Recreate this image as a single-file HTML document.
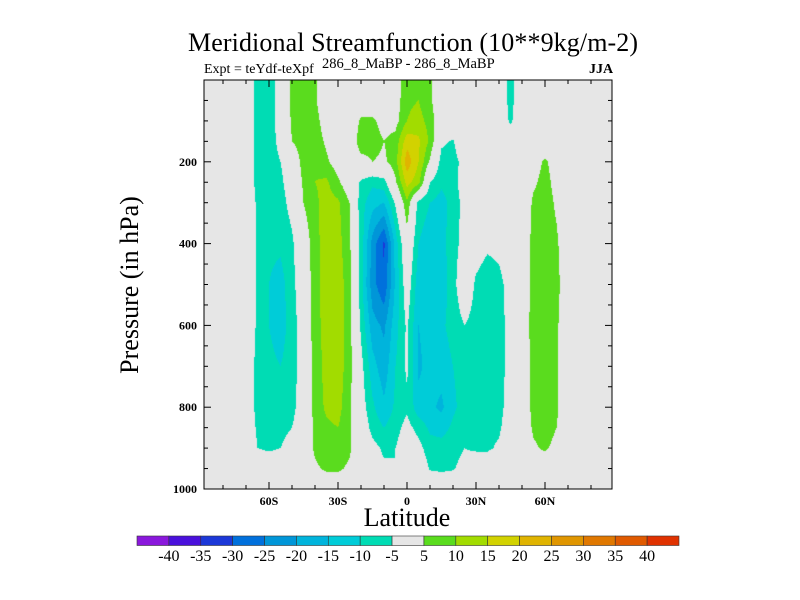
<!DOCTYPE html>
<html><head><meta charset="utf-8"><style>
body{margin:0;background:#fff;width:800px;height:600px;overflow:hidden;position:relative;font-family:"Liberation Serif",serif}
.t{position:absolute;white-space:nowrap;color:#000}
</style></head><body>
<div class="t" style="left:188px;top:28px;font-size:26px;letter-spacing:0.1px">Meridional Streamfunction (10**9kg/m-2)</div>
<div class="t" style="left:204px;top:62px;font-size:14px">Expt = teYdf-teXpf</div>
<div class="t" style="left:322px;top:56px;font-size:14.5px">286_8_MaBP - 286_8_MaBP</div>
<div class="t" style="left:589px;top:62px;font-size:14px;font-weight:bold">JJA</div>
<div class="t" style="left:130px;top:285px;font-size:26px;transform:translate(-50%,-50%) rotate(-90deg)">Pressure (in hPa)</div>
<div class="t" style="left:407px;top:503px;font-size:26px;transform:translateX(-50%)">Latitude</div>
<canvas id="cv" width="800" height="600" style="position:absolute;left:0;top:0"></canvas>
<svg id="sv" width="800" height="600" style="position:absolute;left:0;top:0"></svg>
<script>
const lats=[-90,-85,-80,-75,-70,-65,-60,-55,-50,-45,-40,-35,-30,-25,-20,-15,-10,-5,0,5,10,15,20,25,30,35,40,45,50,55,60,65,70,75,80,85,90];
const levels=[0,50,100,150,200,250,300,400,500,600,700,800,850,900,950,1000];
const r0  =[0,0,0,0,0,-7,-7,-3,7,8,6,0,0,0,0,0,0,2,8,9,6,0,0,0,0,0,0,-7,0,0,0,0,0,0,0,0,0];
const r50 =[0,0,0,0,0,-7,-7,-3,7,8,6,0,0,0,0,0,0,2,9,10,6,0,0,0,0,0,0,-7,0,0,0,0,0,0,0,0,0];
const r100=[0,0,0,0,0,-7,-7,-3,6,9,7,2,0,0,6,6,3,3,10,12,8,0,0,0,0,0,0,-6,0,0,0,0,0,0,0,0,0];
const r150=[0,0,0,0,0,-7,-8,-3,5,9,8,4,0,0,8,7,5,7,18,16,9,-4,-5.5,0,0,0,0,0,0,0,0,0,0,0,0,0,0];
const r200=[0,0,0,0,0,-7,-8,-5,-2,8,9,6,2,0,3,5,4,8,23,15,4,-7,-7,-3,0,0,0,0,0,2,6,2,0,0,0,0,0];
const r250=[0,0,0,0,0,-7,-8,-6,-2,6,10,11,6,1,-6,-9,-7,4,17,12,-5,-9,-7,-2,0,0,0,0,0,4,7,3,0,0,0,0,0];
const r300=[0,0,0,0,0,-6,-8,-7,-3,5,9,12,11,5,-8,-13,-15,-4,9,-7,-10,-12,-8,-3,0,0,0,0,0,6,8,4,0,0,0,0,0];
const r400=[0,0,0,0,0,-6,-9,-9,-6,1,8,13,12,6,-7,-22,-31,-13,2,-10,-13,-12,-7,-3,-2,-4,-3,0,0,7,9,6,0,0,0,0,0];
const r500=[0,0,0,0,0,-6,-10,-12,-7,0,8,13,13,7,-8,-23,-29,-14,-1,-13,-15,-13,-7,0,-6,-8,-7,-2,0,7,9,7,0,0,0,0,0];
const r600=[0,0,0,0,0,-6,-10,-12,-8,-1,8,12,13,7,-6,-18,-21,-12,-4,-15,-13,-11,-8,-5,-7,-9,-8,-2,0,8,9,6,0,0,0,0,0];
const r700=[0,0,0,0,0,-7,-9,-10,-8,-1,7,12,13,7,-3,-13,-18,-10,-4,-16,-13,-13,-10,-8,-8,-9,-8,-2,0,7,9,6,0,0,0,0,0];
const r800=[0,0,0,0,0,-7,-8,-8,-7,-1,7,11,12,6,-2,-9,-14,-9,-6,-13,-14,-16,-11,-8,-8,-8,-7,-2,0,7,8,6,0,0,0,0,0];
const r850=[0,0,0,0,0,-6,-7,-7,-5,0,6,9,10,6,0,-7,-10,-7,-3,-7,-11,-12,-9,-7,-7,-7,-6,-1,0,6,8,5,0,0,0,0,0];
const r900=[0,0,0,0,0,-5,-6,-5,-2,0,6,8,8,6,0,-3,-6,-5,-1,-3,-8,-8,-7,-5,-6,-6,-4,0,0,4,6,3,0,0,0,0,0];
const r950=[0,0,0,0,0,0,0,0,0,0,4,6,6,4,0,-2,-4,-5,0,0,-5.5,-6,-5.5,-3,0,0,0,0,0,0,0,0,0,0,0,0,0];
const r1000=[0,0,0,0,0,0,0,0,0,0,0,0,0,0,0,0,0,0,0,0,0,0,0,0,0,0,0,0,0,0,0,0,0,0,0,0,0];
const values=[r0,r50,r100,r150,r200,r250,r300,r400,r500,r600,r700,r800,r850,r900,r950,r1000];
const cbLabels=[-40,-35,-30,-25,-20,-15,-10,-5,5,10,15,20,25,30,35,40];
const xTickLabels=["60S","30S","0","30N","60N"];
const xTickVals=[-60,-30,0,30,60];
const yTickVals=[200,400,600,800,1000];
const colors=["#8a18dc","#4a10dc","#1c38d8","#0070dc","#0096d8","#00b4dc","#00ccd8","#00dcb4","#e6e6e6","#5adc1e","#a2dc00","#d2d200","#e0b400","#e09600","#e07800","#e05a00","#e03200"];

const X0=204,X1=612,Y0=80,Y1=489;
const xs=lat=>407+lat*2.3;
const ys=p=>Y0+(p-0)*(Y1-Y0)/1000;
function colorFor(v){let k=0;while(k<cbLabels.length&&v>=cbLabels[k])k++;return colors[k];}
function val(lat,p){
  let i=0;while(i<lats.length-2&&lat>lats[i+1])i++;
  let j=0;while(j<levels.length-2&&p>levels[j+1])j++;
  const tx=Math.min(1,Math.max(0,(lat-lats[i])/(lats[i+1]-lats[i])));
  const ty=Math.min(1,Math.max(0,(p-levels[j])/(levels[j+1]-levels[j])));
  const a=values[j][i],b=values[j][i+1],c=values[j+1][i],d=values[j+1][i+1];
  return (a*(1-tx)+b*tx)*(1-ty)+(c*(1-tx)+d*tx)*ty;
}
const ctx=document.getElementById('cv').getContext('2d');
for(let px=X0;px<X1;px++){for(let py=Y0;py<Y1;py++){
  const lat=(px+0.5-407)/2.3, p=(py+0.5-Y0)*1000/(Y1-Y0);
  ctx.fillStyle=colorFor(val(lat,p));ctx.fillRect(px,py,1,1);
}}
const NS="http://www.w3.org/2000/svg",sv=document.getElementById('sv');
function mk(tag,at,name){const e=document.createElementNS(NS,tag);for(const k in at)e.setAttribute(k,at[k]);


sv.appendChild(e);return e;}
mk('rect',{x:X0,y:Y0,width:X1-X0,height:Y1-Y0,fill:'none',stroke:'#000','stroke-width':1},'plot-frame');
for(let lat=-80;lat<=80;lat+=10){const maj=lat%30===0;const L=maj?7:4;const x=xs(lat);
 mk('line',{x1:x,x2:x,y1:Y1,y2:Y1-L,stroke:'#000'},'x-tick');mk('line',{x1:x,x2:x,y1:Y0,y2:Y0+L,stroke:'#000'},'x-tick-top');}
xTickVals.forEach((v,k)=>{const t=mk('text',{x:xs(v),y:505,'text-anchor':'middle','font-size':12,'font-weight':'bold','font-family':'Liberation Serif'},'x-tick-label');t.textContent=xTickLabels[k];});
for(let p=50;p<1000;p+=50){const maj=p%200===0;const L=maj?7:4;const y=ys(p);
 mk('line',{x1:X0,x2:X0+L,y1:y,y2:y,stroke:'#000'},'y-tick');mk('line',{x1:X1,x2:X1-L,y1:y,y2:y,stroke:'#000'},'y-tick-right');}
yTickVals.forEach(v=>{const t=mk('text',{x:197,y:ys(v)+4,'text-anchor':'end','font-size':12,'font-weight':'bold','font-family':'Liberation Serif'},'y-tick-label');t.textContent=v;});
const CB0=137,CBW=(679-137)/colors.length;
colors.forEach((c,k)=>mk('rect',{x:CB0+k*CBW,y:536,width:CBW,height:9.5,fill:c,stroke:'#333','stroke-width':0.6},'colorbar-box'));
cbLabels.forEach((v,k)=>{const t=mk('text',{x:CB0+(k+1)*CBW,y:561,'text-anchor':'middle','font-size':16,'font-family':'Liberation Serif'},'colorbar-label');t.textContent=v;});
</script>
</body></html>
